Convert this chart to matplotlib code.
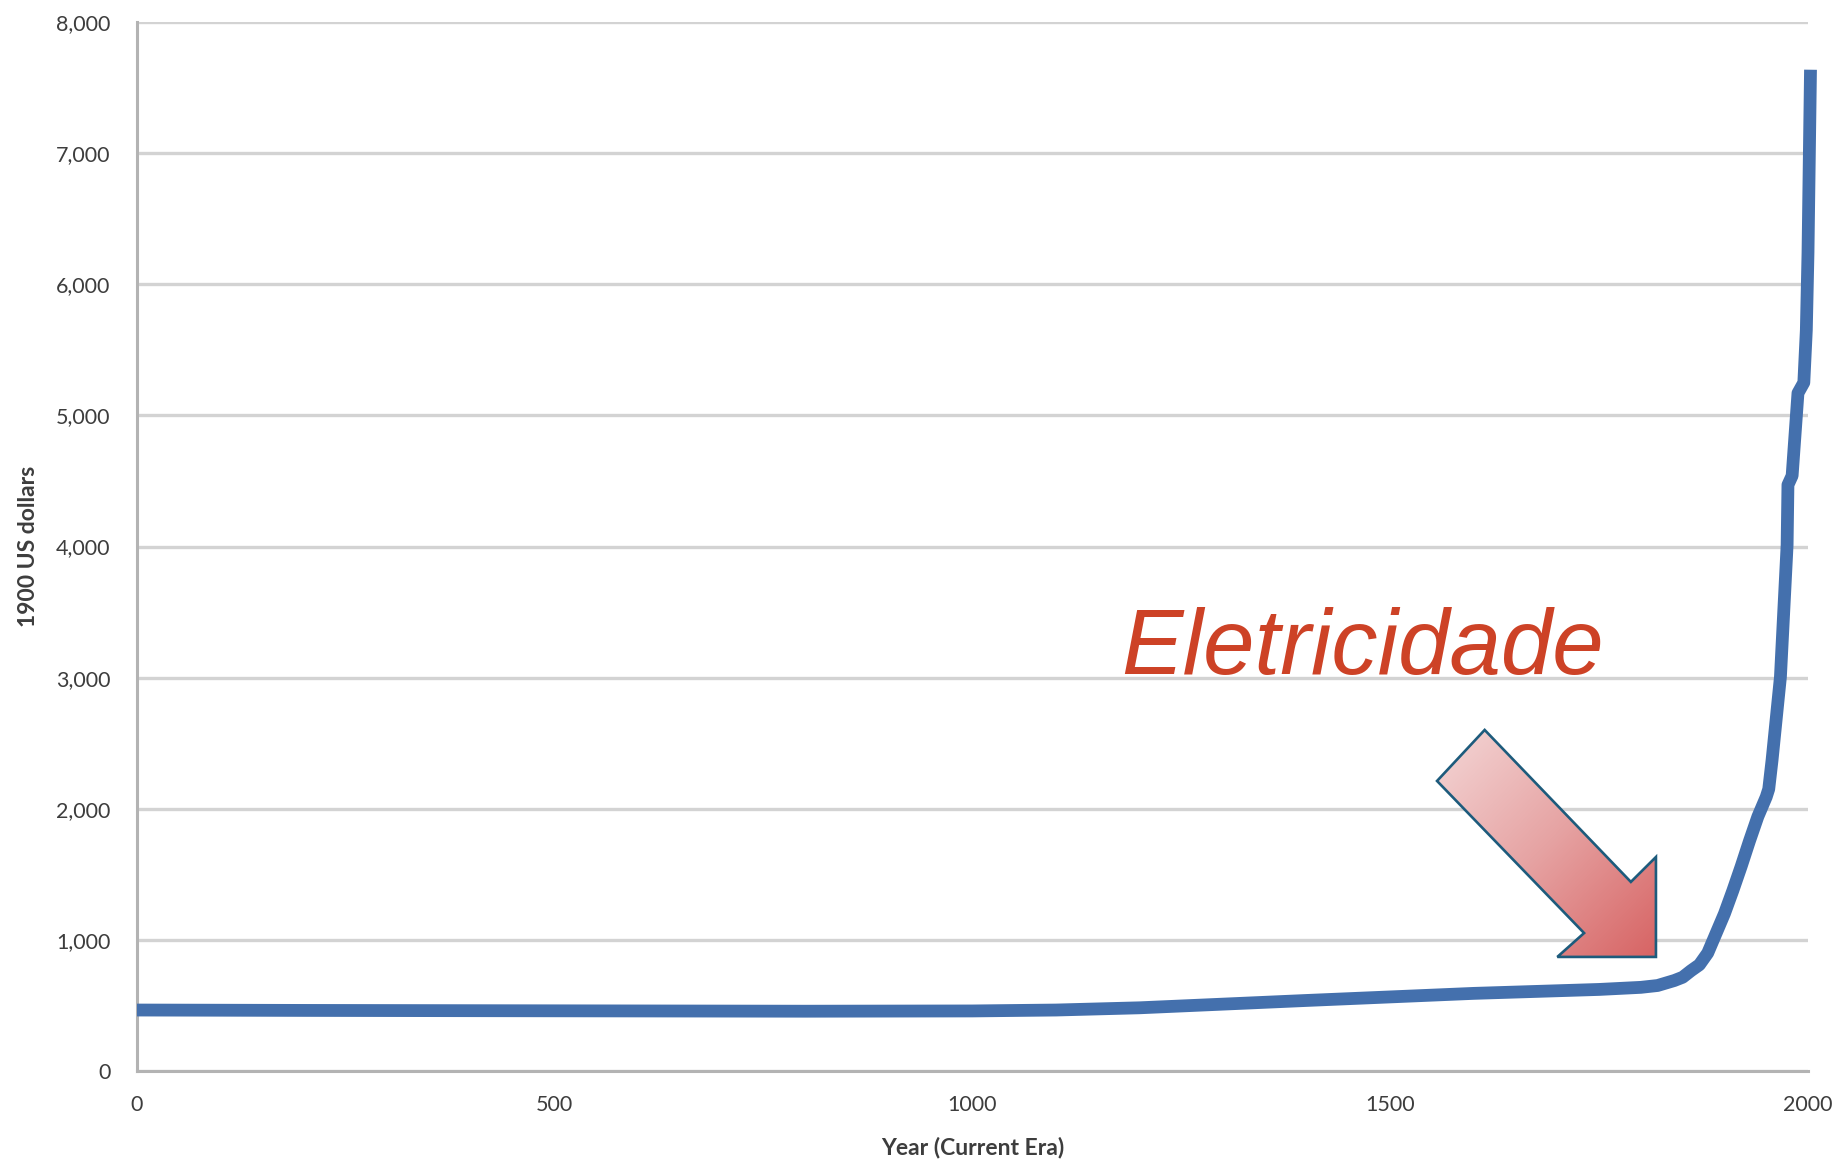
import numpy as np
import matplotlib
matplotlib.use("Agg")
import matplotlib.pyplot as plt
from matplotlib.patches import Polygon
from matplotlib.colors import LinearSegmentedColormap

# ---------------- data ----------------
years = [0, 200, 400, 600, 800, 1000, 1100, 1200, 1300, 1400, 1500, 1600,
         1700, 1750, 1800, 1820, 1840, 1850, 1860, 1870, 1880, 1890, 1900,
         1910, 1920, 1930, 1940, 1950, 1953, 1957, 1967, 1975, 1976, 1981,
         1988, 1995, 1998, 2000, 2003]
gdp_per_capita = [465, 462, 460, 458, 456, 458, 465, 482, 510, 538, 565, 592,
                  612, 622, 638, 652, 690, 715, 765, 810, 900, 1050, 1200,
                  1375, 1560, 1755, 1940, 2090, 2150, 2372, 3005, 4012, 4470, 4540,
                  5170, 5250, 5650, 6240, 7636]

x_ticks = [0, 500, 1000, 1500, 2000]
x_tick_labels = ["0", "500", "1000", "1500", "2000"]
y_ticks = [0, 1000, 2000, 3000, 4000, 5000, 6000, 7000, 8000]
y_tick_labels = ["0", "1,000", "2,000", "3,000", "4,000", "5,000", "6,000", "7,000", "8,000"]

x_label = "Year (Current Era)"
y_label = "1900 US dollars"
annotation_text = "Eletricidade"

# ---------------- figure ----------------
W, H, DPI = 1844, 1162, 100
fig = plt.figure(figsize=(W / DPI, H / DPI), dpi=DPI, facecolor="white")
ax = fig.add_axes([137 / W, 1 - 1071 / H, 1671 / W, 1049 / H])

ax.set_xlim(0, 2000)
ax.set_ylim(0, 8000)

label_font = "Lato"
tick_color = "#3d3d3d"

ax.set_xticks(x_ticks)
ax.set_xticklabels(x_tick_labels, fontfamily=label_font, fontsize=15.5, color=tick_color)
ax.set_yticks(y_ticks)
ax.set_yticklabels(y_tick_labels, fontfamily=label_font, fontsize=15.5, color=tick_color)
ax.tick_params(axis="both", length=0)
ax.tick_params(axis="y", pad=19)
ax.tick_params(axis="x", pad=17)

ax.grid(axis="y", color="#d3d3d3", linewidth=2.4)
ax.set_axisbelow(True)
for s in ["top", "right"]:
    ax.spines[s].set_visible(False)
for s in ["left", "bottom"]:
    ax.spines[s].set_color("#b3b3b3")
    ax.spines[s].set_linewidth(2.2)
    ax.spines[s].set_zorder(3)

ax.set_xlabel(x_label, fontfamily=label_font, fontsize=16.5, fontweight="bold",
              color=tick_color, va="center")
ax.xaxis.set_label_coords(0.5, (1071 - 1147) / 1049)
ax.set_ylabel(y_label, fontfamily=label_font, fontsize=16.5, fontweight="bold",
              color=tick_color, va="center")
ax.yaxis.set_label_coords((28 - 137) / 1671, 0.5)

# main line
ax.plot(years, gdp_per_capita, color="#4470ad", linewidth=9.2,
        solid_joinstyle="round", solid_capstyle="butt", clip_on=False, zorder=4)

# annotation text
ax.text(1178, 3025, annotation_text, fontfamily="Liberation Sans", fontstyle="italic",
        fontsize=66.5, color="#cd4226", ha="left", va="baseline", zorder=5)

# block arrow (data coordinates) with diagonal gradient fill
arrow_pts = np.array([
    [1613, 2601], [1788, 1442], [1818, 1632], [1818, 870],
    [1700, 870], [1732, 1052], [1556, 2212]
])
poly = Polygon(arrow_pts, closed=True, facecolor="none", edgecolor="#1d5b7c",
               linewidth=1.9, zorder=6, joinstyle="miter")
ax.add_patch(poly)

xmin, xmax = arrow_pts[:, 0].min(), arrow_pts[:, 0].max()
ymin, ymax = arrow_pts[:, 1].min(), arrow_pts[:, 1].max()
u = np.linspace(0, 1, 200)
v = np.linspace(0, 1, 200)
U, V = np.meshgrid(u, v)
T = (U + V) / 2.0  # 0 at top-left, 1 at bottom-right (origin upper)
cmap = LinearSegmentedColormap.from_list("arrowgrad", ["#f4d6d6", "#e6a3a3", "#d76464"])
clip_poly = Polygon(arrow_pts, closed=True, transform=ax.transData)
im = ax.imshow(T, cmap=cmap, extent=[xmin, xmax, ymin, ymax], origin="upper",
               aspect="auto", zorder=5.5, interpolation="bilinear")
im.set_clip_path(clip_poly)

ax.set_xlim(0, 2000)
ax.set_ylim(0, 8000)

fig.savefig("out.png", dpi=DPI, facecolor="white")
